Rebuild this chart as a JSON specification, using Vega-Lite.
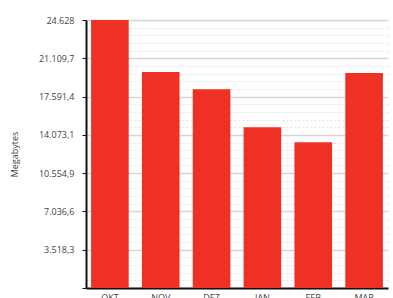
{
  "$schema": "https://vega.github.io/schema/vega-lite/v6.json",
  "autosize": {"type": "none"},
  "padding": {"left": 86, "top": 20, "right": 5, "bottom": 10},
  "width": 302,
  "height": 268,
  "background": "white",
  "config": {"view": {"stroke": null}, "font": "Open Sans"},
  "data": {"values": [
    {"month": "OKT", "mb": 24628},
    {"month": "NOV", "mb": 19840},
    {"month": "DEZ", "mb": 18275},
    {"month": "JAN", "mb": 14777},
    {"month": "FEB", "mb": 13396},
    {"month": "MAR", "mb": 19748}
  ]},
  "resolve": {"axis": {"y": "independent"}},
  "layer": [
    {
      "mark": {"type": "rule", "opacity": 0},
      "encoding": {
        "y": {"field": "mb", "type": "quantitative", "scale": {"domain": [0, 24628], "nice": false},
          "axis": {"orient": "left", "title": null, "labels": false, "ticks": false, "domain": false,
            "grid": true, "gridColor": "#e3e3e3", "gridDash": [2, 2], "gridWidth": 1,
            "values": [703.66,1407.31,2110.97,2814.63,4221.94,4925.6,5629.26,6332.91,7740.23,8443.89,9147.54,9851.2,11258.51,11962.17,12665.83,13369.49,14776.8,15480.46,16184.11,16887.77,18295.09,18998.74,19702.4,20406.06,21813.37,22517.03,23220.69,23924.34]}
        }
      }
    },
    {
      "mark": {"type": "bar", "color": "#EE3124"},
      "encoding": {
        "x": {"field": "month", "type": "nominal", "sort": null,
          "scale": {"paddingInner": 0.26, "paddingOuter": 0.1},
          "axis": {"title": null, "labelAngle": 0, "labelFontSize": 9, "labelColor": "#444", "domainColor": "#111", "domainWidth": 2, "ticks": false, "labelPadding": 5}},
        "y": {"field": "mb", "type": "quantitative", "scale": {"domain": [0, 24628], "nice": false},
          "axis": {"orient": "left", "title": "Megabytes", "titleFontSize": 9, "titleFontWeight": "normal", "titleColor": "#444", "titlePadding": 19,
            "values": [0, 3518.2857, 7036.5714, 10554.857, 14073.143, 17591.429, 21109.714, 24628],
            "labelExpr": "datum.value == 0 ? '' : replace(replace(replace(format(datum.value, ',.1~f'), ',', '#'), '.', ','), '#', '.')",
            "labelFontSize": 9, "labelColor": "#444", "labelPadding": 8,
            "domainColor": "#111", "domainWidth": 2, "tickColor": "#111", "tickSize": 4,
            "grid": true, "gridColor": "#d6d6d6", "gridWidth": 1.5}}
      }
    }
  ]
}
